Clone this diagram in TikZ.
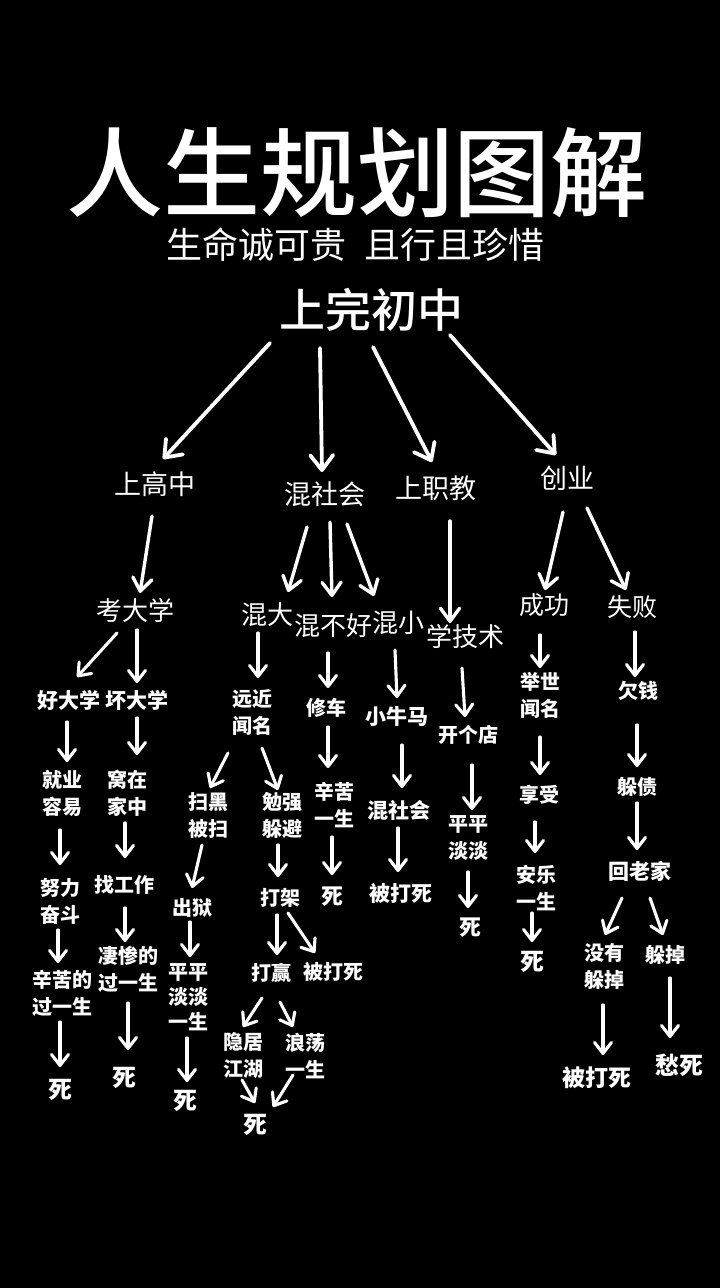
\documentclass[tikz,border=0pt]{standalone}
\usepackage{fontspec}
\newfontfamily\cjk{Noto Sans CJK SC}
\newfontfamily\cjkm{Noto Sans CJK SC Medium}
\usetikzlibrary{arrows.meta}
\newcommand\fz[2]{\cjk\fontsize{#1}{#2}\selectfont}
\newcommand\fm[2]{\cjkm\fontsize{#1}{#2}\selectfont}
\newcommand\lnk[5][]{\draw[arr,#1] ([shift={(#3)}]#2.center) -- ([shift={(#5)}]#4.center);}
\tikzset{
  lbl/.style={text=white, inner sep=0pt, align=center, font=\fz{20}{27}\bfseries},
  mid/.style={text=white, inner sep=0pt, align=center, font=\fz{26}{30}},
  die/.style={text=white, inner sep=0pt, align=center, font=\fz{24}{28}\bfseries},
  arr/.style={draw=white, line width=3.1pt, line cap=round,
    -{Straight Barb[length=11pt,width=17pt,round]}},
  big/.style={line width=3.8pt, -{Straight Barb[length=15pt,width=23pt,round]}},
  med/.style={line width=3.4pt, -{Straight Barb[length=13pt,width=19pt,round]}}
}
\begin{document}
\begin{tikzpicture}[x=1pt,y=-1pt]
\fill[black] (0,0) rectangle (720,1288);
% titles
\node[text=white,inner sep=0pt,font=\fm{97}{100}] (title) at (357,173) {人生规划图解};
\node[text=white,inner sep=0pt,font=\fz{36}{40}] (sub) at (355,245) {生命诚可贵\hspace{0.5em}且行且珍惜};
\node[text=white,inner sep=0pt,font=\fm{46}{50}] (root) at (371,310) {上完初中};
% level 2
\node[mid,font=\fz{27}{30}] (gz) at (155,484) {上高中};
\node[mid,font=\fz{27}{30}] (hsh) at (325,494) {混社会};
\node[mid,font=\fz{27}{30}] (zj) at (436,488) {上职教};
\node[mid,font=\fz{27}{30}] (cy) at (567,478) {创业};
% level 3
\node[mid] (kdx) at (135,610) {考大学};
\node[mid] (hd) at (267,615) {混大};
\node[mid] (hbh) at (333,626) {混不好};
\node[mid] (hx) at (398,623) {混小};
\node[mid] (jsh) at (465,637) {学技术};
\node[mid,font=\fz{25}{30}] (cg) at (544,605) {成功};
\node[mid,font=\fz{25}{30}] (sb) at (632,607) {失败};
% level 4
\node[lbl,font=\fz{21}{27}\bfseries] (hdx) at (69,700) {好大学};
\node[lbl,font=\fz{21}{27}\bfseries] (bdx) at (137,700) {坏大学};
\node[lbl] (yjwm) at (252,712) {远近\\闻名};
\node[lbl] (xc) at (326,708) {修车};
\node[lbl,font=\fz{21}{27}\bfseries] (xnm) at (397,717) {小牛马};
\node[lbl] (kgd) at (468,735) {开个店};
\node[lbl] (jswm) at (540,695) {举世\\闻名};
\node[lbl] (qq) at (638,691) {欠钱};
% level 5
\node[lbl] (jyry) at (62,793) {就业\\容易};
\node[lbl] (wzjz) at (127,793) {窝在\\家中};
\node[lbl] (shbs) at (208,815) {扫黑\\被扫};
\node[lbl] (mqdb) at (282,815) {勉强\\躲避};
\node[lbl] (xkys) at (334,805) {辛苦\\一生};
\node[lbl,font=\fz{21}{27}\bfseries] (hsh2) at (399,810) {混社会};
\node[lbl] (ppdd) at (468,838) {平平\\淡淡};
\node[lbl] (xs) at (539,795) {享受};
\node[lbl] (dz) at (637,787) {躲债};
% level 6
\node[lbl] (nlfd) at (60,901) {努力\\奋斗};
\node[lbl] (zgz) at (124,885) {找工作};
\node[lbl] (cyu) at (192,908) {出狱};
\node[lbl] (dj) at (280,898) {打架};
\node[die,font=\fz{22}{26}\bfseries] (si1) at (332,897) {死};
\node[lbl,font=\fz{21}{27}\bfseries] (bds1) at (401,893) {被打死};
\node[die,font=\fz{22}{26}\bfseries] (si2) at (470,928) {死};
\node[lbl] (alys) at (536,888) {安乐\\一生};
\node[lbl,font=\fz{21}{27}\bfseries] (hlj) at (640,871) {回老家};
% level 7
\node[lbl] (xkdg) at (62,993) {辛苦的\\过一生};
\node[lbl] (qcdg) at (128,969) {凄惨的\\过一生};
\node[lbl,font=\fz{20}{25}\bfseries] (ppddys) at (188,997) {平平\\淡淡\\一生};
\node[lbl] (dy) at (271,973) {打赢};
\node[lbl] (bds2) at (333,972) {被打死};
\node[die] (si3) at (532,962) {死};
\node[lbl] (myddd) at (604,966) {没有\\躲掉};
\node[lbl] (ddd) at (665,955) {躲掉};
% level 8
\node[die] (si4) at (60,1090) {死};
\node[die] (si5) at (124,1078) {死};
\node[die] (si6) at (185,1101) {死};
\node[lbl] (yjjh) at (243,1055) {隐居\\江湖};
\node[lbl] (ldys) at (305,1056) {浪荡\\一生};
\node[die,font=\fz{23}{27}\bfseries] (bds3) at (597,1078) {被打死};
\node[die] (cs) at (679,1065) {愁死};
\node[die] (si7) at (255,1125) {死};
% arrows
\lnk[big]{root}{-101,33}{gz}{8,-25}
\lnk[big]{root}{-51,38}{hsh}{-3,-22}
\lnk[big]{root}{2,37}{zj}{-4,-26}
\lnk[big]{root}{79,25}{cy}{-11,-23}
\lnk[med]{gz}{-3,32}{kdx}{5,-17}
\lnk[med]{hsh}{-18,33}{hd}{21,-23}
\lnk[med]{hsh}{5,28}{hbh}{-1,-29}
\lnk[med]{hsh}{22,30}{hx}{-24,-27}
\lnk[med]{zj}{14,33}{jsh}{-15,-14}
\lnk[med]{cy}{-4,34}{cg}{1,-15}
\lnk[med]{cy}{20,30}{sb}{-6,-17}
\lnk{kdx}{-18,23}{hdx}{8,-23}
\lnk{kdx}{2,20}{bdx}{0,-17}
\lnk{hd}{-9,18}{yjwm}{6,-34}
\lnk{hbh}{-5,27}{xc}{2,-20}
\lnk{hx}{-3,27}{xnm}{0,-19}
\lnk{jsh}{-3,31}{kgd}{-3,-18}
\lnk{cg}{-4,30}{jswm}{0,-27}
\lnk{sb}{3,25}{qq}{-3,-14}
\lnk{hdx}{-2,22}{jyry}{5,-31}
\lnk{bdx}{0,18}{wzjz}{10,-38}
\lnk{yjwm}{-24,41}{shbs}{2,-27}
\lnk{yjwm}{10,36}{mqdb}{-4,-25}
\lnk{xc}{2,19}{xkys}{-6,-37}
\lnk{xnm}{5,28}{hsh2}{3,-22}
\lnk{kgd}{4,30}{ppdd}{4,-28}
\lnk{jswm}{0,42}{xs}{1,-20}
\lnk{qq}{-1,34}{dz}{0,-20}
\lnk{jyry}{-2,37}{nlfd}{0,-36}
\lnk{wzjz}{-2,30}{zgz}{1,-27}
\lnk{shbs}{-6,30}{cyu}{0,-20}
\lnk{mqdb}{-4,30}{dj}{-2,-21}
\lnk{xkys}{-2,32}{si1}{0,-22}
\lnk{hsh2}{-1,18}{bds1}{-3,-21}
\lnk{ppdd}{0,34}{si2}{-2,-20}
\lnk{xs}{-4,27}{alys}{-1,-35}
\lnk{dz}{0,16}{hlj}{-3,-21}
\lnk{nlfd}{-2,29}{xkdg}{-4,-30}
\lnk{zgz}{1,23}{qcdg}{-3,-27}
\lnk{cyu}{-2,14}{ppddys}{2,-40}
\lnk{dj}{-3,17}{dy}{6,-18}
\lnk{dj}{8,15}{bds2}{-18,-19}
\lnk{alys}{-4,25}{si3}{0,-20}
\lnk{hlj}{-18,27}{myddd}{1,-31}
\lnk{hlj}{10,27}{ddd}{-2,-20}
\lnk{xkdg}{-2,29}{si4}{0,-23}
\lnk{qcdg}{0,34}{si5}{4,-28}
\lnk{ppddys}{-1,41}{si6}{2,-19}
\lnk{dy}{-9,25}{yjjh}{0,-28}
\lnk{dy}{9,29}{ldys}{-12,-29}
\lnk{myddd}{-1,39}{bds3}{6,-23}
\lnk{ddd}{5,23}{cs}{-9,-27}
\lnk{yjjh}{-1,25}{si7}{0,-22}
\lnk{ldys}{-12,19}{si7}{18,-18}
\end{tikzpicture}
\end{document}
